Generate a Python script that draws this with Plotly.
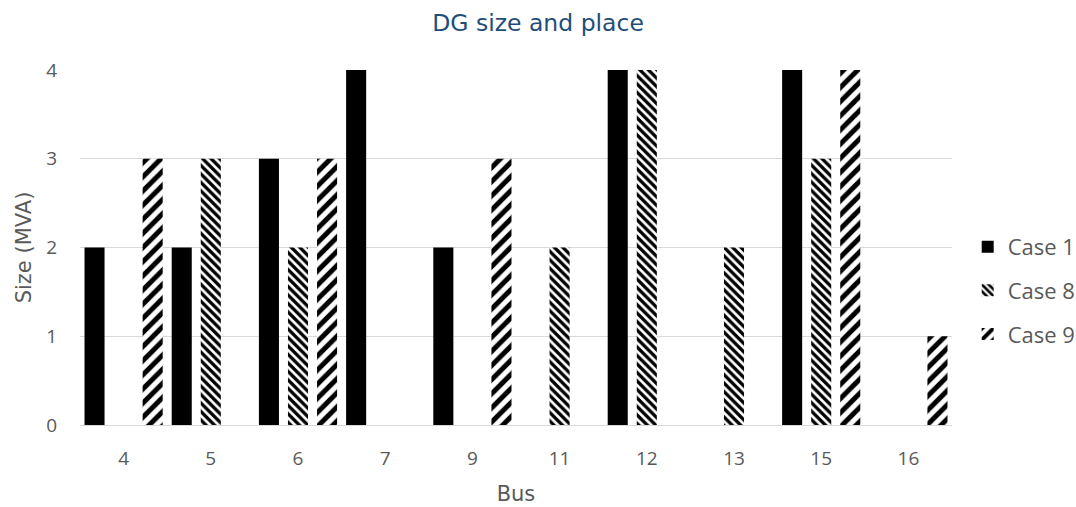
import plotly.graph_objects as go

# Bus numbers (categories) and DG sizes in MVA for each case
buses = ["4", "5", "6", "7", "9", "11", "12", "13", "15", "16"]
case1 = [2, 2, 3, 4, 2, 0, 4, 0, 4, 0]
case8 = [0, 3, 2, 0, 0, 2, 4, 2, 3, 0]
case9 = [3, 0, 3, 0, 3, 0, 0, 0, 4, 1]

series_names = ["Case 1", "Case 8", "Case 9"]

FONT = "Open Sans"
TITLE_FONT = "DejaVu Sans"
GREY = "#595959"

fig = go.Figure()

fig.add_trace(go.Bar(
    x=buses, y=case1, name=series_names[0], legendgroup="c1",
    marker=dict(color="black", line=dict(width=0)),
))
fig.add_trace(go.Bar(
    x=buses, y=case8, name=series_names[1], legendgroup="c8",
    marker=dict(color="white", line=dict(width=0),
                pattern=dict(shape="\\", fgcolor="black", bgcolor="white",
                             fgopacity=1, size=6, solidity=0.55, fillmode="overlay")),
))
fig.add_trace(go.Bar(
    x=buses, y=case9, name=series_names[2], legendgroup="c9",
    marker=dict(color="white", line=dict(width=0),
                pattern=dict(shape="/", fgcolor="black", bgcolor="white",
                             fgopacity=1, size=10, solidity=0.5, fillmode="overlay")),
))

fig.update_layout(
    width=1076, height=507,
    margin=dict(l=80, r=124, t=70, b=82, autoexpand=False),
    paper_bgcolor="white", plot_bgcolor="white",
    barmode="group", bargap=0.0, bargroupgap=0.31,
    font=dict(family=FONT, size=19, color=GREY),
    title=dict(text="DG size and place", x=0.5, xanchor="center",
               y=0.955, yanchor="middle", yref="container",
               font=dict(family=TITLE_FONT, size=23.5, color="#1F4E79")),
    xaxis=dict(
        type="category",
        title=dict(text="Bus", font=dict(family=TITLE_FONT, size=21, color=GREY), standoff=16),
        showgrid=False, showline=True, linecolor="#D9D9D9", linewidth=1,
        ticks="", ticklabelstandoff=16, tickfont=dict(size=19, color=GREY),
    ),
    yaxis=dict(
        title=dict(text="Size (MVA)", font=dict(family=TITLE_FONT, size=21, color=GREY), standoff=8),
        range=[0, 4], dtick=1, showgrid=True, gridcolor="#D9D9D9", gridwidth=1,
        zeroline=False, showline=False, ticks="", ticklabelstandoff=22,
        tickfont=dict(size=19, color=GREY),
    ),
    legend=dict(
        x=1.018, xanchor="left", y=0.379, yanchor="middle",
        font=dict(size=22, color=GREY), tracegroupgap=12,
        bgcolor="rgba(0,0,0,0)", itemwidth=30,
    ),
)

fig.write_html("out.html")
